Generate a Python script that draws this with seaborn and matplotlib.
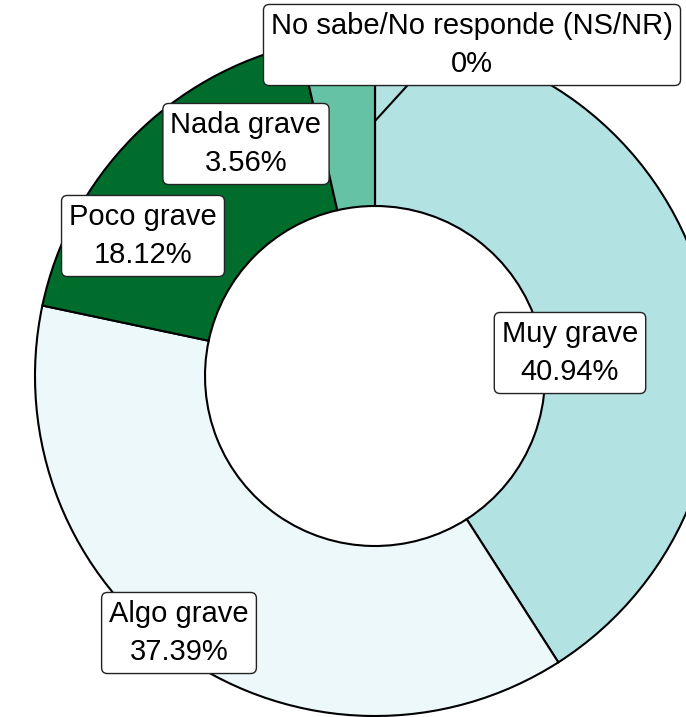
import matplotlib
matplotlib.use("Agg")
import matplotlib.pyplot as plt
import seaborn as sns
import numpy as np

categories = ["Muy grave", "Algo grave", "Poco grave", "Nada grave", "No sabe/No responde (NS/NR)"]
values = [40.94, 37.39, 18.12, 3.56, 0.0]
value_labels = ["40.94%", "37.39%", "18.12%", "3.56%", "0%"]
colors = ["#b2e2e2", "#edf8fb", "#006d2c", "#66c2a4", "#2ca25f"]

sns.set_theme(style="white")
plt.rcParams["font.family"] = ["Liberation Sans", "DejaVu Sans"]
palette = sns.color_palette(colors)

W, H = 686, 717
fig = plt.figure(figsize=(W / 100, H / 100), dpi=100)
ax = fig.add_axes([0, 0, 1, 1])

# pixel geometry of the donut
cx, cy, R = 375, 376, 340

wedges, _ = ax.pie(values, colors=palette, startangle=90, counterclock=False,
                   radius=1.0, wedgeprops=dict(width=0.5, edgecolor="black", linewidth=1.5))

ax.set_xlim(-cx / R, (W - cx) / R)
ax.set_ylim((cy - H) / R, cy / R)
ax.set_aspect("equal", adjustable="box")
ax.axis("off")

# label positions (pixel coords in reference -> data)
label_px = [(570, 353), (179, 633), (143, 236), (246, 144), (472, 45)]
# leader line end points (pixel), only for labels pulled off the ring
leader_px = [None, None, None, None, (416, 76)]

total = sum(values)
cum = 0
for cat, v, vl, (px, py), lead in zip(categories, values, value_labels, label_px, leader_px):
    mid = cum + v / 2
    cum += v
    ang = np.deg2rad(90 - 360 * mid / total)
    mx, my = 0.75 * np.cos(ang), 0.75 * np.sin(ang)
    lx, ly = (px - cx) / R, (cy - py) / R
    if lead is not None:
        ex, ey = (lead[0] - cx) / R, (cy - lead[1]) / R
        ax.plot([mx, ex], [my, ey], color="black", lw=1.5, zorder=3)
    ax.text(lx, ly, f"{cat}\n{vl}", ha="center", va="center", fontsize=21,
            linespacing=1.45, zorder=5, color="black",
            bbox=dict(boxstyle="round,pad=0.26,rounding_size=0.2", fc="white",
                      ec="#222222", lw=1.0))

fig.savefig("out.png", dpi=100)
